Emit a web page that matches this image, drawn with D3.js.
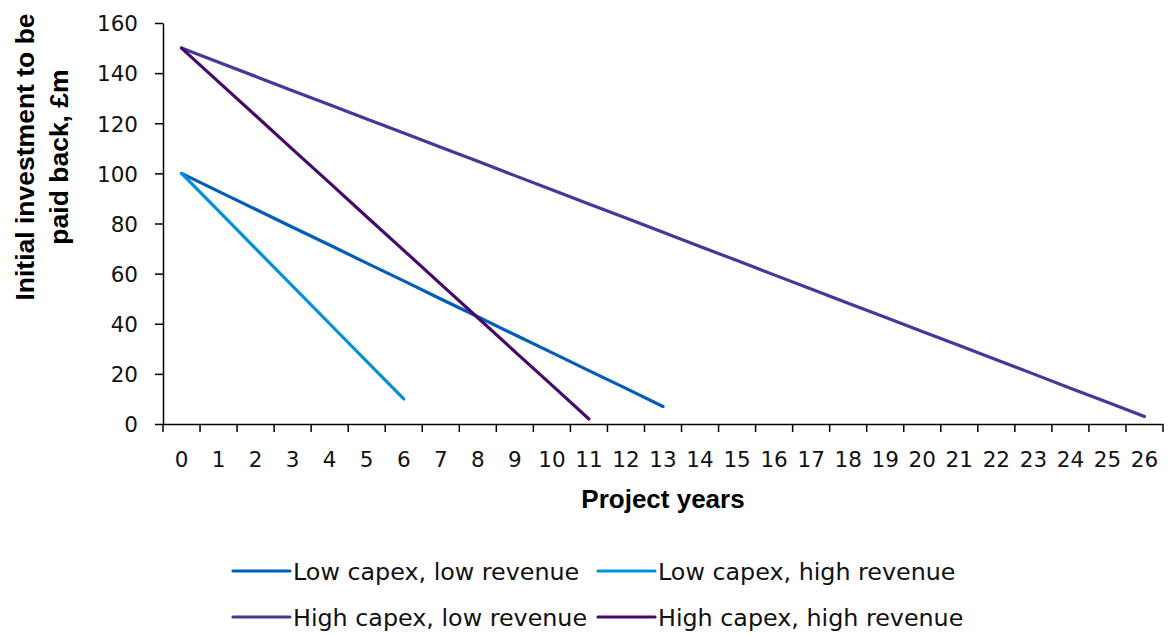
<!DOCTYPE html>
<html>
<head>
<meta charset="utf-8">
<script src="https://cdn.jsdelivr.net/npm/d3@7"></script>
<style>
  html, body { margin: 0; padding: 0; background: #fff; }
  svg { display: block; }
  .tick text { font-family: "DejaVu Sans", sans-serif; }
</style>
</head>
<body>
<svg id="chart" width="1168" height="635"></svg>
<script>
// ---- data ----
const years = ["0","1","2","3","4","5","6","7","8","9","10","11","12","13","14","15","16","17","18","19","20","21","22","23","24","25","26"];
const yTicks = [0, 20, 40, 60, 80, 100, 120, 140, 160];
const seriesNames = ["Low capex, low revenue", "Low capex, high revenue", "High capex, low revenue", "High capex, high revenue"];
const lowCapexLowRevenue   = [100, 92.8, 85.7, 78.5, 71.4, 64.2, 57.1, 49.9, 42.8, 35.6, 28.5, 21.3, 14.2, 7.0];
const lowCapexHighRevenue  = [100, 85, 70, 55, 40, 25, 10];
const highCapexLowRevenue  = [150, 144.3, 138.7, 133.0, 127.4, 121.7, 116.1, 110.4, 104.8, 99.1, 93.5, 87.8, 82.2, 76.5, 70.8, 65.2, 59.5, 53.9, 48.2, 42.6, 36.9, 31.3, 25.6, 20.0, 14.3, 8.7, 3.0];
const highCapexHighRevenue = [150, 136.5, 123.1, 109.6, 96.2, 82.7, 69.3, 55.8, 42.4, 28.9, 15.5, 2.0];
const seriesValues = [lowCapexLowRevenue, lowCapexHighRevenue, highCapexLowRevenue, highCapexHighRevenue];
const colors = ["#005EB8", "#0091DA", "#483698", "#470A68"];

// ---- layout ----
const svg = d3.select("#chart");
const plotLeft = 163, plotRight = 1163, plotTop = 23, plotBottom = 424;

const x = d3.scaleBand().domain(years).range([plotLeft, plotRight]).padding(0);
const y = d3.scaleLinear().domain([0, 160]).range([plotBottom, plotTop]);

// Y axis
const yAxis = svg.append("g")
  .attr("transform", `translate(${plotLeft},0)`)
  .call(d3.axisLeft(y).tickValues(yTicks).tickSize(8).tickSizeOuter(0).tickPadding(17));
yAxis.select(".domain").attr("stroke", "#000").attr("stroke-width", 1.5);
yAxis.selectAll(".tick line").attr("stroke", "#000").attr("stroke-width", 1.5);
yAxis.selectAll(".tick text").attr("font-size", 21.5).attr("fill", "#111").attr("dy", "0.36em");

// X axis (labels at band centres, ticks at band boundaries)
const xAxis = svg.append("g")
  .attr("transform", `translate(0,${plotBottom})`)
  .call(d3.axisBottom(x).tickSize(0).tickSizeOuter(0).tickPadding(28));
xAxis.select(".domain").attr("stroke", "#000").attr("stroke-width", 1.5);
xAxis.selectAll(".tick text").attr("font-size", 21.5).attr("fill", "#111");
const boundaries = years.map(d => x(d)).concat([x.range()[1]]);
xAxis.selectAll("line.bnd").data(boundaries).enter().append("line")
  .attr("class", "bnd")
  .attr("x1", d => d).attr("x2", d => d)
  .attr("y1", 0).attr("y2", 8)
  .attr("stroke", "#000").attr("stroke-width", 1.5);

// Lines
const line = d3.line()
  .x((d, i) => x(years[i]) + x.bandwidth() / 2)
  .y(d => y(d));
seriesValues.forEach((vals, k) => {
  svg.append("path")
    .datum(vals)
    .attr("d", line)
    .attr("fill", "none")
    .attr("stroke", colors[k])
    .attr("stroke-width", 3.2)
    .attr("stroke-linecap", "round")
    .attr("stroke-linejoin", "round");
});

// Axis titles
svg.append("text")
  .attr("x", (plotLeft + plotRight) / 2)
  .attr("y", 508)
  .attr("text-anchor", "middle")
  .attr("font-family", "Liberation Sans, Arial, sans-serif")
  .attr("font-weight", "bold")
  .attr("font-size", 26)
  .attr("fill", "#000")
  .text("Project years");

const yTitle = svg.append("text")
  .attr("transform", "translate(0,157) rotate(-90)")
  .attr("text-anchor", "middle")
  .attr("font-family", "Liberation Sans, Arial, sans-serif")
  .attr("font-weight", "bold")
  .attr("font-size", 26.5)
  .attr("fill", "#000");
yTitle.append("tspan").attr("x", 0).attr("y", 34).text("Initial investment to be");
yTitle.append("tspan").attr("x", 0).attr("y", 68).text("paid back, £m");

// Legend
const legendPos = [[233, 571], [598, 571], [233, 617], [598, 617]];
seriesNames.forEach((name, k) => {
  const g = svg.append("g").attr("transform", `translate(${legendPos[k][0]},${legendPos[k][1]})`);
  g.append("line").attr("x1", 0).attr("x2", 57).attr("y1", 0).attr("y2", 0)
    .attr("stroke", colors[k]).attr("stroke-width", 3.2).attr("stroke-linecap", "round");
  g.append("text").attr("x", 60).attr("y", 0).attr("dy", "0.36em")
    .attr("font-family", "DejaVu Sans, sans-serif")
    .attr("font-size", 23.8)
    .attr("fill", "#111")
    .text(name);
});
</script>
</body>
</html>
